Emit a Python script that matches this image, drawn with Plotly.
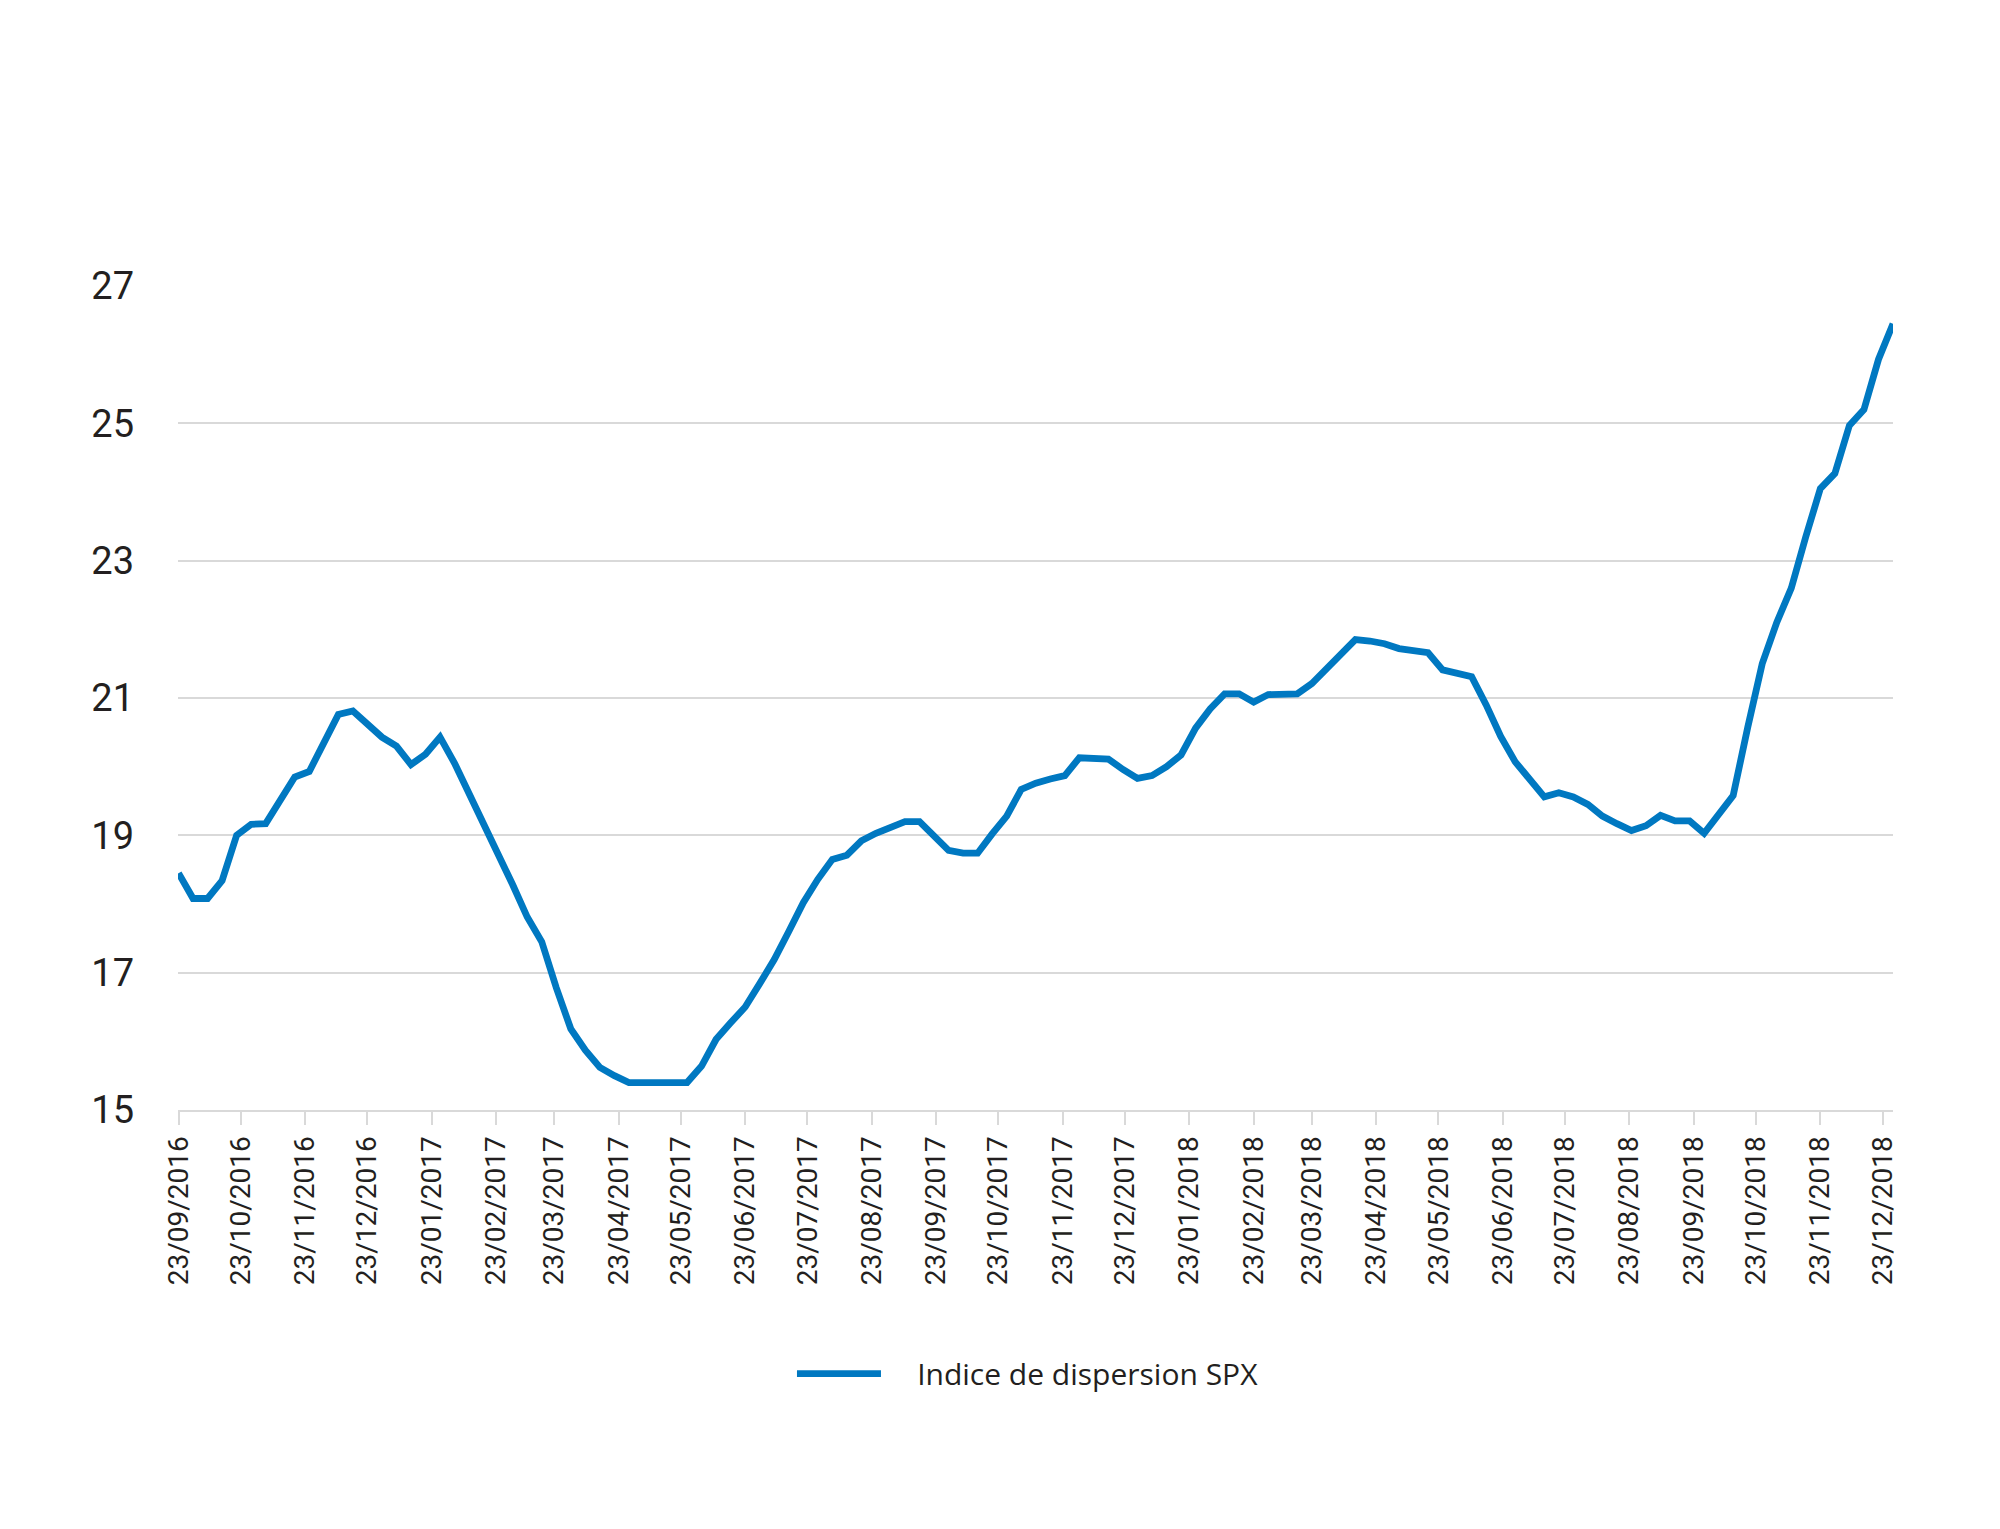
import pandas as pd
import plotly.graph_objects as go

# Weekly observations (Fridays) starting 23/09/2016
dates = pd.date_range("2016-09-23", periods=119, freq="7D")

dispersion = [
    18.45, 18.08, 18.08, 18.34, 19.00, 19.16, 19.17, 19.51, 19.85, 19.93,
    20.36, 20.76, 20.81, 20.62, 20.43, 20.30, 20.03, 20.18, 20.43, 20.05,
    19.61, 19.19, 18.75, 18.28, 17.81, 17.45, 16.78, 16.18, 15.87, 15.62,
    15.50, 15.40, 15.40, 15.40, 15.40, 15.40, 15.64, 16.03, 16.27, 16.50,
    16.84, 17.19, 17.60, 18.02, 18.36, 18.65, 18.71, 18.92, 19.03, 19.12,
    19.20, 19.20, 19.00, 18.78, 18.74, 18.74, 19.02, 19.28, 19.67, 19.76,
    19.82, 19.87, 20.13, 20.13, 20.11, 19.96, 19.83, 19.87, 20.00, 20.17,
    20.56, 20.84, 21.06, 21.06, 20.94, 21.05, 21.06, 21.06, 21.21, 21.43,
    21.66, 21.85, 21.83, 21.79, 21.72, 21.69, 21.66, 21.41, 21.37, 21.31,
    20.90, 20.44, 20.07, 19.81, 19.56, 19.62, 19.56, 19.45, 19.28, 19.17,
    19.07, 19.14, 19.29, 19.21, 19.21, 19.03, 19.30, 19.58, 20.57, 21.50,
    22.10, 22.60, 23.35, 24.05, 24.27, 24.97, 25.20, 25.93, 26.45,
]

series_name = "Indice de dispersion SPX"

# Monthly tick marks on the 23rd (23/09/2016 ... 23/12/2018)
tick_dates = pd.date_range("2016-09-01", "2018-12-01", freq="MS") + pd.Timedelta(days=22)
tick_labels = [d.strftime("%d/%m/%Y") for d in tick_dates]

y_ticks = [15, 17, 19, 21, 23, 25, 27]

blue = "#0078c1"
grid = "#d9d9d9"
txt = "#231f20"
tickfam = "Roboto, Open Sans, sans-serif"

fig = go.Figure()
fig.add_trace(go.Scatter(
    x=dates, y=dispersion, mode="lines", name="\u00a0\u00a0\u00a0\u00a0" + series_name,
    line=dict(color=blue, width=6.8, shape="linear"),
))

fig.update_layout(
    width=2000, height=1529,
    margin=dict(l=178, r=107, t=286, b=419),
    paper_bgcolor="white", plot_bgcolor="white",
    showlegend=True,
    legend=dict(
        orientation="h", x=0.358, xanchor="left", y=-0.32, yanchor="middle",
        font=dict(family="Open Sans, Noto Sans, sans-serif", size=30, color=txt),
        itemwidth=84,
    ),
)

fig.update_xaxes(
    type="date",
    range=[dates[0] - pd.Timedelta(hours=6), dates[-1]],
    tickmode="array", tickvals=tick_dates, ticktext=tick_labels,
    tickangle=-90,
    tickfont=dict(family=tickfam, size=28, color=txt),
    showgrid=False, zeroline=False,
    showline=True, linecolor=grid, linewidth=2,
    ticks="outside", ticklen=13, tickwidth=2, tickcolor=grid,
    ticklabelstandoff=0,
)

fig.update_yaxes(
    range=[15, 27],
    tickmode="array", tickvals=y_ticks, ticktext=[str(v) for v in y_ticks],
    tickfont=dict(family=tickfam, size=38, color=txt),
    showgrid=True, gridcolor=grid, gridwidth=2,
    zeroline=False, showline=False,
    ticks="", ticklabelstandoff=43,
)

fig.write_html("out.html")
